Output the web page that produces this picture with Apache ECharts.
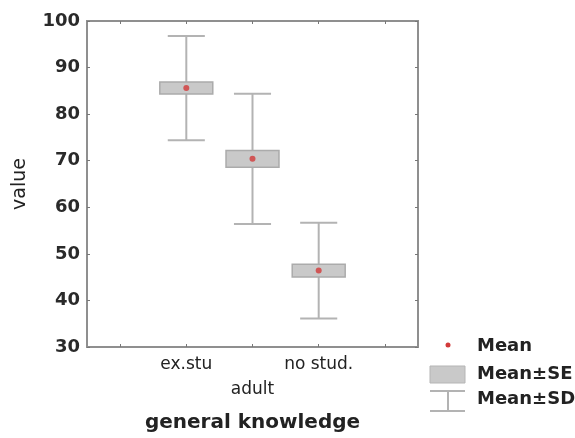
<!DOCTYPE html>
<html>
<head>
<meta charset="utf-8">
<script src="https://cdn.jsdelivr.net/npm/echarts@6/dist/echarts.min.js"></script>
<style>html,body{margin:0;padding:0;background:#fff;}#c{width:575px;height:438px;}</style>
</head>
<body>
<div id="c"></div>
<script>
// Groups of "general knowledge" (adult)
const groups = ['ex.stu', 'adult', 'no stud.'];
// Axis slots: one empty slot on each side, as in the original plot
const slots = ['', 'ex.stu', 'adult', 'no stud.', ''];
const means = [85.6, 70.4, 46.4];
const ses = [1.3, 1.8, 1.35];
const sds = [11.2, 14.0, 10.3];
const yTicks = [30, 40, 50, 60, 70, 80, 90, 100];

const FONT = 'DejaVu Sans';
const rows = groups.map((g, i) => [slots.indexOf(g), means[i], ses[i], sds[i]]);

const chart = echarts.init(document.getElementById('c'), null, {renderer: 'canvas'});
const lineGray = '#b3b3b3';

chart.setOption({
  animation: false,
  backgroundColor: '#fff',
  grid: {left: 87, right: 157, top: 21, bottom: 88, show: true, borderColor: '#8f8f8f', borderWidth: 2, backgroundColor: 'transparent'},
  xAxis: [{
    type: 'category', data: slots, position: 'bottom', boundaryGap: true,
    axisLine: {show: false},
    axisTick: {show: true, inside: true, alignWithLabel: true, length: 3, lineStyle: {color: '#777'}},
    axisLabel: {
      interval: 0, margin: 5, fontFamily: FONT, fontSize: 17, color: '#222', lineHeight: 25,
      formatter: (v, i) => (i === 2 ? '\n' + v : v)
    },
    name: 'general knowledge', nameLocation: 'middle', nameGap: 66,
    nameTextStyle: {fontFamily: FONT, fontSize: 20, fontWeight: 'bold', color: '#222'},
    splitLine: {show: false}
  }, {
    type: 'category', data: slots, position: 'top', boundaryGap: true,
    axisLine: {show: false},
    axisTick: {show: true, inside: true, alignWithLabel: true, length: 3, lineStyle: {color: '#777'}},
    axisLabel: {show: false}, splitLine: {show: false}
  }],
  yAxis: [{
    type: 'value', min: yTicks[0], max: yTicks[yTicks.length - 1], interval: 10, position: 'left',
    axisLine: {show: false},
    axisTick: {show: true, inside: true, length: 3, lineStyle: {color: '#777'}},
    axisLabel: {margin: 7, fontFamily: FONT, fontSize: 18, fontWeight: 'bold', color: '#2a2a2a'},
    splitLine: {show: false},
    name: 'value', nameLocation: 'middle', nameGap: 57, nameRotate: 90,
    nameTextStyle: {fontFamily: FONT, fontSize: 19, color: '#222'}
  }, {
    type: 'value', min: yTicks[0], max: yTicks[yTicks.length - 1], interval: 10, position: 'right',
    axisLine: {show: false},
    axisTick: {show: true, inside: true, length: 3, lineStyle: {color: '#777'}},
    axisLabel: {show: false}, splitLine: {show: false}
  }],
  series: [{
    name: 'Mean±SD', type: 'custom', xAxisIndex: 0, yAxisIndex: 0,
    data: rows,
    encode: {x: 0, y: 1},
    renderItem: function (params, api) {
      const x = api.value(0), m = api.value(1), sd = api.value(3);
      const top = api.coord([x, m + sd]);
      const bot = api.coord([x, m - sd]);
      const hw = api.size([1, 0])[0] * 0.28;
      const st = {stroke: lineGray, lineWidth: 2};
      return {type: 'group', children: [
        {type: 'line', shape: {x1: top[0], y1: top[1], x2: bot[0], y2: bot[1]}, style: st},
        {type: 'line', shape: {x1: top[0] - hw, y1: top[1], x2: top[0] + hw, y2: top[1]}, style: st},
        {type: 'line', shape: {x1: bot[0] - hw, y1: bot[1], x2: bot[0] + hw, y2: bot[1]}, style: st}
      ]};
    }
  }, {
    name: 'Mean±SE', type: 'custom', xAxisIndex: 0, yAxisIndex: 0,
    data: rows,
    encode: {x: 0, y: 1},
    renderItem: function (params, api) {
      const x = api.value(0), m = api.value(1), se = api.value(2);
      const top = api.coord([x, m + se]);
      const bot = api.coord([x, m - se]);
      const hw = api.size([1, 0])[0] * 0.4;
      return {type: 'rect', shape: {x: top[0] - hw, y: top[1], width: hw * 2, height: bot[1] - top[1]},
        style: {fill: '#c9c9c9', stroke: '#ababab', lineWidth: 1.5}};
    }
  }, {
    name: 'Mean', type: 'scatter', xAxisIndex: 0, yAxisIndex: 0,
    data: rows.map(r => [r[0], r[1]]),
    symbol: 'circle', symbolSize: 6,
    itemStyle: {color: '#d23a3a'}
  }],
  graphic: [
    {type: 'circle', shape: {cx: 448, cy: 345, r: 2.5}, style: {fill: '#d23a3a'}},
    {type: 'rect', shape: {x: 430, y: 366, width: 35, height: 17}, style: {fill: '#c9c9c9', stroke: '#b5b5b5', lineWidth: 1}},
    {type: 'line', shape: {x1: 430, y1: 391, x2: 465, y2: 391}, style: {stroke: lineGray, lineWidth: 2}},
    {type: 'line', shape: {x1: 448, y1: 391, x2: 448, y2: 411}, style: {stroke: lineGray, lineWidth: 2}},
    {type: 'line', shape: {x1: 430, y1: 411, x2: 465, y2: 411}, style: {stroke: lineGray, lineWidth: 2}},
    {type: 'text', x: 477, y: 346, style: {text: 'Mean', fontFamily: FONT, fontSize: 18, fontWeight: 'bold', fill: '#222', verticalAlign: 'middle'}},
    {type: 'text', x: 477, y: 374, style: {text: 'Mean±SE', fontFamily: FONT, fontSize: 18, fontWeight: 'bold', fill: '#222', verticalAlign: 'middle'}},
    {type: 'text', x: 477, y: 399, style: {text: 'Mean±SD', fontFamily: FONT, fontSize: 18, fontWeight: 'bold', fill: '#222', verticalAlign: 'middle'}}
  ]
});
</script>
</body>
</html>
